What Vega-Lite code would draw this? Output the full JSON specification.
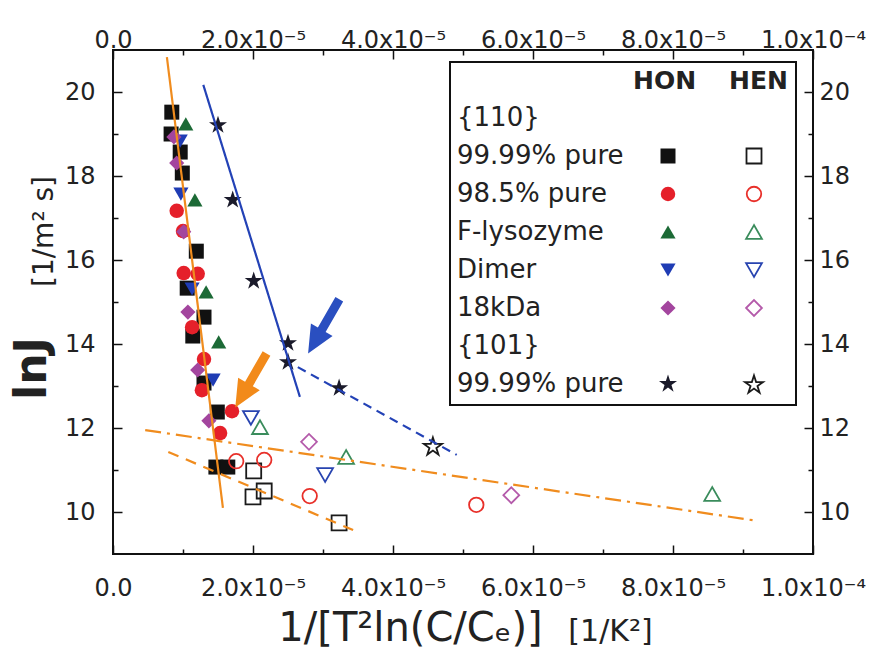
{
  "$schema": "https://vega.github.io/schema/vega-lite/v6.json",
  "width": 700,
  "height": 504,
  "autosize": {"type": "none"},
  "padding": {"left": 113, "top": 50, "right": 72, "bottom": 101},
  "background": "white",
  "datasets": {
    "pts": [
      {"x": 8.4e-6, "y": 19.52, "sample": "99.99% pure", "solvent": "HON"},
      {"x": 8.3e-6, "y": 19.0, "sample": "99.99% pure", "solvent": "HON"},
      {"x": 9.6e-6, "y": 18.57, "sample": "99.99% pure", "solvent": "HON"},
      {"x": 9.9e-6, "y": 18.07, "sample": "99.99% pure", "solvent": "HON"},
      {"x": 11.9e-6, "y": 16.21, "sample": "99.99% pure", "solvent": "HON"},
      {"x": 10.6e-6, "y": 15.33, "sample": "99.99% pure", "solvent": "HON"},
      {"x": 13.0e-6, "y": 14.64, "sample": "99.99% pure", "solvent": "HON"},
      {"x": 11.4e-6, "y": 14.19, "sample": "99.99% pure", "solvent": "HON"},
      {"x": 13.0e-6, "y": 13.07, "sample": "99.99% pure", "solvent": "HON"},
      {"x": 14.9e-6, "y": 12.38, "sample": "99.99% pure", "solvent": "HON"},
      {"x": 14.7e-6, "y": 11.07, "sample": "99.99% pure", "solvent": "HON"},
      {"x": 16.4e-6, "y": 11.07, "sample": "99.99% pure", "solvent": "HON"},
      {"x": 9.1e-6, "y": 17.17, "sample": "98.5% pure", "solvent": "HON"},
      {"x": 10.0e-6, "y": 16.69, "sample": "98.5% pure", "solvent": "HON"},
      {"x": 10.1e-6, "y": 15.69, "sample": "98.5% pure", "solvent": "HON"},
      {"x": 12.1e-6, "y": 15.67, "sample": "98.5% pure", "solvent": "HON"},
      {"x": 11.3e-6, "y": 14.40, "sample": "98.5% pure", "solvent": "HON"},
      {"x": 13.0e-6, "y": 13.64, "sample": "98.5% pure", "solvent": "HON"},
      {"x": 12.7e-6, "y": 12.90, "sample": "98.5% pure", "solvent": "HON"},
      {"x": 17.0e-6, "y": 12.40, "sample": "98.5% pure", "solvent": "HON"},
      {"x": 15.3e-6, "y": 11.88, "sample": "98.5% pure", "solvent": "HON"},
      {"x": 10.4e-6, "y": 19.24, "sample": "F-lysozyme", "solvent": "HON"},
      {"x": 11.7e-6, "y": 17.43, "sample": "F-lysozyme", "solvent": "HON"},
      {"x": 13.3e-6, "y": 15.24, "sample": "F-lysozyme", "solvent": "HON"},
      {"x": 15.1e-6, "y": 14.05, "sample": "F-lysozyme", "solvent": "HON"},
      {"x": 9.6e-6, "y": 18.83, "sample": "Dimer", "solvent": "HON"},
      {"x": 9.7e-6, "y": 17.57, "sample": "Dimer", "solvent": "HON"},
      {"x": 11.3e-6, "y": 15.31, "sample": "Dimer", "solvent": "HON"},
      {"x": 14.3e-6, "y": 13.14, "sample": "Dimer", "solvent": "HON"},
      {"x": 8.7e-6, "y": 18.93, "sample": "18kDa", "solvent": "HON"},
      {"x": 9.1e-6, "y": 18.31, "sample": "18kDa", "solvent": "HON"},
      {"x": 10.1e-6, "y": 16.67, "sample": "18kDa", "solvent": "HON"},
      {"x": 10.7e-6, "y": 14.76, "sample": "18kDa", "solvent": "HON"},
      {"x": 12.1e-6, "y": 13.38, "sample": "18kDa", "solvent": "HON"},
      {"x": 13.7e-6, "y": 12.17, "sample": "18kDa", "solvent": "HON"},
      {"x": 15.0e-6, "y": 19.21, "sample": "{101} 99.99% pure", "solvent": "HON"},
      {"x": 17.1e-6, "y": 17.43, "sample": "{101} 99.99% pure", "solvent": "HON"},
      {"x": 20.1e-6, "y": 15.50, "sample": "{101} 99.99% pure", "solvent": "HON"},
      {"x": 25.0e-6, "y": 14.02, "sample": "{101} 99.99% pure", "solvent": "HON"},
      {"x": 25.0e-6, "y": 13.57, "sample": "{101} 99.99% pure", "solvent": "HON"},
      {"x": 32.3e-6, "y": 12.95, "sample": "{101} 99.99% pure", "solvent": "HON"},
      {"x": 45.7e-6, "y": 11.55, "sample": "{101} 99.99% pure", "solvent": "HEN"},
      {"x": 20.1e-6, "y": 10.98, "sample": "99.99% pure", "solvent": "HEN"},
      {"x": 21.6e-6, "y": 10.50, "sample": "99.99% pure", "solvent": "HEN"},
      {"x": 20.0e-6, "y": 10.36, "sample": "99.99% pure", "solvent": "HEN"},
      {"x": 32.3e-6, "y": 9.74, "sample": "99.99% pure", "solvent": "HEN"},
      {"x": 17.6e-6, "y": 11.21, "sample": "98.5% pure", "solvent": "HEN"},
      {"x": 21.6e-6, "y": 11.24, "sample": "98.5% pure", "solvent": "HEN"},
      {"x": 28.1e-6, "y": 10.38, "sample": "98.5% pure", "solvent": "HEN"},
      {"x": 51.9e-6, "y": 10.17, "sample": "98.5% pure", "solvent": "HEN"},
      {"x": 21.0e-6, "y": 12.02, "sample": "F-lysozyme", "solvent": "HEN"},
      {"x": 33.3e-6, "y": 11.31, "sample": "F-lysozyme", "solvent": "HEN"},
      {"x": 85.6e-6, "y": 10.43, "sample": "F-lysozyme", "solvent": "HEN"},
      {"x": 19.7e-6, "y": 12.24, "sample": "Dimer", "solvent": "HEN"},
      {"x": 30.3e-6, "y": 10.88, "sample": "Dimer", "solvent": "HEN"},
      {"x": 28.0e-6, "y": 11.67, "sample": "18kDa", "solvent": "HEN"},
      {"x": 56.9e-6, "y": 10.40, "sample": "18kDa", "solvent": "HEN"}
    ],
    "fits": [
      {"fit": "HON {110}", "x": 7.7e-6, "y": 20.83},
      {"fit": "HON {110}", "x": 15.7e-6, "y": 10.1},
      {"fit": "HON {101}", "x": 12.9e-6, "y": 20.17},
      {"fit": "HON {101}", "x": 26.7e-6, "y": 12.74},
      {"fit": "HEN {101}", "x": 26.4e-6, "y": 13.45},
      {"fit": "HEN {101}", "x": 49.1e-6, "y": 11.36},
      {"fit": "HEN {110}", "x": 4.6e-6, "y": 11.95},
      {"fit": "HEN {110}", "x": 92.0e-6, "y": 9.79},
      {"fit": "HEN 99.99%", "x": 7.9e-6, "y": 11.43},
      {"fit": "HEN 99.99%", "x": 34.3e-6, "y": 9.57}
    ],
    "arrows": [
      {"target": "{101}", "x": 30.1e-6, "y": 14.42},
      {"target": "{110}", "x": 19.7e-6, "y": 13.13}
    ]
  },
  "layer": [
    {
      "data": {"name": "pts"},
      "transform": [{"filter": "datum.solvent == 'HON'"}],
      "mark": {"type": "point", "filled": true, "opacity": 1, "strokeWidth": 0},
      "encoding": {
        "x": {"field": "x", "type": "quantitative", "scale": {"domain": [0, 0.0001], "nice": false, "zero": false},
          "axis": {"orient": "top", "values": [0, 0.00002, 0.00004, 0.00006, 0.00008, 0.0001], "tickSize": -9, "labelPadding": 7, "title": null,
            "labelExpr": "datum.value == 0 ? '0.0' : datum.value > 0.00009 ? '1.0x10⁻⁴' : round(datum.value*100000) + '.0x10⁻⁵'"}},
        "y": {"field": "y", "type": "quantitative", "scale": {"domain": [9, 21], "nice": false, "zero": false},
          "axis": {"orient": "right", "values": [10, 12, 14, 16, 18, 20], "tickSize": -9, "labelPadding": 15, "title": null}},
        "size": {"field": "sample", "type": "nominal",
          "scale": {"type": "ordinal", "domain": ["{110}", "99.99% pure", "98.5% pure", "F-lysozyme", "Dimer", "18kDa", "{101}", "{101} 99.99% pure"],
            "range": [200, 225, 210, 230, 230, 230, 200, 360]}, "legend": null},
        "color": {"field": "sample", "type": "nominal",
          "scale": {"domain": ["{110}", "99.99% pure", "98.5% pure", "F-lysozyme", "Dimer", "18kDa", "{101}", "{101} 99.99% pure"],
            "range": ["transparent", "#111111", "#e5202a", "#1c6a36", "#1f3cb4", "#a3459e", "transparent", "#1a1a2a"]},
          "legend": {"title": "HON", "orient": "none", "legendX": 520, "legendY": 19, "padding": 0, "symbolOffset": 22, "labelOffset": -224, "titleAnchor": "start",
            "labelExpr": "datum.label == '{101} 99.99% pure' ? '99.99% pure' : datum.label"}},
        "shape": {"field": "sample", "type": "nominal",
          "scale": {"domain": ["{110}", "99.99% pure", "98.5% pure", "F-lysozyme", "Dimer", "18kDa", "{101}", "{101} 99.99% pure"],
            "range": ["circle", "square", "circle", "triangle-up", "triangle-down", "diamond", "circle", "M0,-1L0.2245,-0.309L0.951,-0.309L0.3633,0.118L0.5878,0.809L0,0.382L-0.5878,0.809L-0.3633,0.118L-0.951,-0.309L-0.2245,-0.309Z"]},
          "legend": {"title": "HON", "orient": "none", "legendX": 520, "legendY": 19, "padding": 0, "symbolOffset": 22, "labelOffset": -224, "titleAnchor": "start",
            "labelExpr": "datum.label == '{101} 99.99% pure' ? '99.99% pure' : datum.label"}}
      }
    },
    {
      "data": {"name": "pts"},
      "transform": [{"filter": "datum.solvent == 'HEN'"}],
      "mark": {"type": "point", "filled": false, "opacity": 1, "strokeWidth": 1.8},
      "encoding": {
        "x": {"field": "x", "type": "quantitative", "scale": {"domain": [0, 0.0001], "nice": false, "zero": false},
          "axis": {"orient": "bottom", "values": [0.00001, 0.00003, 0.00005, 0.00007, 0.00009], "tickSize": -5, "labels": false,
            "title": "[1/K²]", "titleX": 497, "titleY": 86, "titleFontSize": 30, "titleFontWeight": "normal", "titleAlign": "center", "titleBaseline": "alphabetic"}},
        "y": {"field": "y", "type": "quantitative", "scale": {"domain": [9, 21], "nice": false, "zero": false},
          "axis": {"orient": "left", "values": [11, 13, 15, 17, 19], "tickSize": -5, "labels": false,
            "title": "[1/m² s]", "titleX": -61, "titleY": 181, "titleAngle": -90, "titleFontSize": 28, "titleFontWeight": "normal", "titleAlign": "center", "titleBaseline": "alphabetic"}},
        "size": {"field": "sample", "type": "nominal",
          "scale": {"type": "ordinal", "domain": ["{110}", "99.99% pure", "98.5% pure", "F-lysozyme", "Dimer", "18kDa", "{101}", "{101} 99.99% pure"],
            "range": [200, 225, 210, 250, 250, 250, 200, 360]}, "legend": null},
        "color": {"field": "sample", "type": "nominal",
          "scale": {"domain": ["{110}", "99.99% pure", "98.5% pure", "F-lysozyme", "Dimer", "18kDa", "{101}", "{101} 99.99% pure"],
            "range": ["transparent", "#1a1a1a", "#e8302a", "#3a8c5c", "#2844b0", "#b45aaa", "transparent", "#1a1a1a"]},
          "legend": {"title": "HEN", "orient": "none", "legendX": 337, "legendY": 12, "padding": 7, "strokeColor": "#111111", "symbolOffset": 284, "labelOffset": -12, "labelOpacity": 0, "labelExpr": "'00'", "symbolStrokeWidth": 1.8, "titleAnchor": "end"}},
        "shape": {"field": "sample", "type": "nominal",
          "scale": {"domain": ["{110}", "99.99% pure", "98.5% pure", "F-lysozyme", "Dimer", "18kDa", "{101}", "{101} 99.99% pure"],
            "range": ["circle", "square", "circle", "triangle-up", "triangle-down", "diamond", "circle", "M0,-1L0.2245,-0.309L0.951,-0.309L0.3633,0.118L0.5878,0.809L0,0.382L-0.5878,0.809L-0.3633,0.118L-0.951,-0.309L-0.2245,-0.309Z"]},
          "legend": {"title": "HEN", "orient": "none", "legendX": 337, "legendY": 12, "padding": 7, "strokeColor": "#111111", "symbolOffset": 284, "labelOffset": -12, "labelOpacity": 0, "labelExpr": "'00'", "symbolStrokeWidth": 1.8, "titleAnchor": "end"}}
      }
    },
    {
      "data": {"name": "fits"},
      "mark": {"type": "line", "strokeWidth": 2.2},
      "encoding": {
        "x": {"field": "x", "type": "quantitative", "scale": {"domain": [0, 0.0001], "nice": false, "zero": false},
          "axis": {"orient": "bottom", "values": [0, 0.00002, 0.00004, 0.00006, 0.00008, 0.0001], "tickSize": -9, "labelPadding": 31,
            "labelExpr": "datum.value == 0 ? '0.0' : datum.value > 0.00009 ? '1.0x10⁻⁴' : round(datum.value*100000) + '.0x10⁻⁵'",
            "title": "1/[T²ln(C/Cₑ)]", "titleX": 297, "titleY": 86, "titleFontSize": 40, "titleFontWeight": "normal", "titleAlign": "center", "titleBaseline": "alphabetic"}},
        "y": {"field": "y", "type": "quantitative", "scale": {"domain": [9, 21], "nice": false, "zero": false},
          "axis": {"orient": "left", "values": [10, 12, 14, 16, 18, 20], "tickSize": -9, "labelPadding": 27,
            "title": "lnJ", "titleX": -68, "titleY": 318, "titleAngle": -90, "titleFontSize": 44, "titleFontWeight": "bold", "titleAlign": "center", "titleBaseline": "alphabetic"}},
        "stroke": {"field": "fit", "type": "nominal",
          "scale": {"domain": ["HON {110}", "HON {101}", "HEN {101}", "HEN {110}", "HEN 99.99%"], "range": ["#f08c1e", "#2342b6", "#2342b6", "#f08c1e", "#f08c1e"]}, "legend": null},
        "strokeDash": {"field": "fit", "type": "nominal",
          "scale": {"domain": ["HON {110}", "HON {101}", "HEN {101}", "HEN {110}", "HEN 99.99%"], "range": [[1, 0], [1, 0], [9, 6], [16, 6, 3, 6], [11, 8]]}, "legend": null}
      }
    },
    {
      "data": {"name": "arrows"},
      "mark": {"type": "point", "shape": "arrow", "filled": true, "size": 3900, "angle": 210, "opacity": 1, "strokeWidth": 0},
      "encoding": {
        "x": {"field": "x", "type": "quantitative", "scale": {"domain": [0, 0.0001], "nice": false, "zero": false},
          "axis": {"orient": "top", "values": [0.00001, 0.00003, 0.00005, 0.00007, 0.00009], "tickSize": -5, "labels": false, "title": null}},
        "y": {"field": "y", "type": "quantitative", "scale": {"domain": [9, 21], "nice": false, "zero": false},
          "axis": {"orient": "right", "values": [11, 13, 15, 17, 19], "tickSize": -5, "labels": false, "title": null}},
        "color": {"field": "target", "type": "nominal", "scale": {"domain": ["{101}", "{110}"], "range": ["#2a4fc0", "#f28a1a"]}, "legend": null}
      }
    }
  ],
  "resolve": {
    "scale": {"color": "independent", "shape": "independent", "size": "independent"},
    "axis": {"x": "independent", "y": "independent"}
  },
  "config": {
    "font": "DejaVu Sans",
    "view": {"stroke": "#111111", "strokeWidth": 2},
    "axis": {"domain": false, "grid": false, "labelOverlap": false, "labelFlush": false, "tickColor": "#111111", "tickWidth": 1.5, "labelFont": "DejaVu Sans", "labelFontSize": 24, "labelColor": "#222222", "titleColor": "#222222", "titleFont": "DejaVu Sans"},
    "legend": {"strokeWidth": 2, "labelFont": "DejaVu Sans", "labelFontSize": 26, "labelColor": "#222222", "labelLimit": 500, "titleLimit": 800,
      "titleFont": "DejaVu Sans", "titleFontSize": 25, "titleFontWeight": "bold", "titleColor": "#222222", "titlePadding": 11,
      "symbolSize": 150, "rowPadding": 12}
  }
}
